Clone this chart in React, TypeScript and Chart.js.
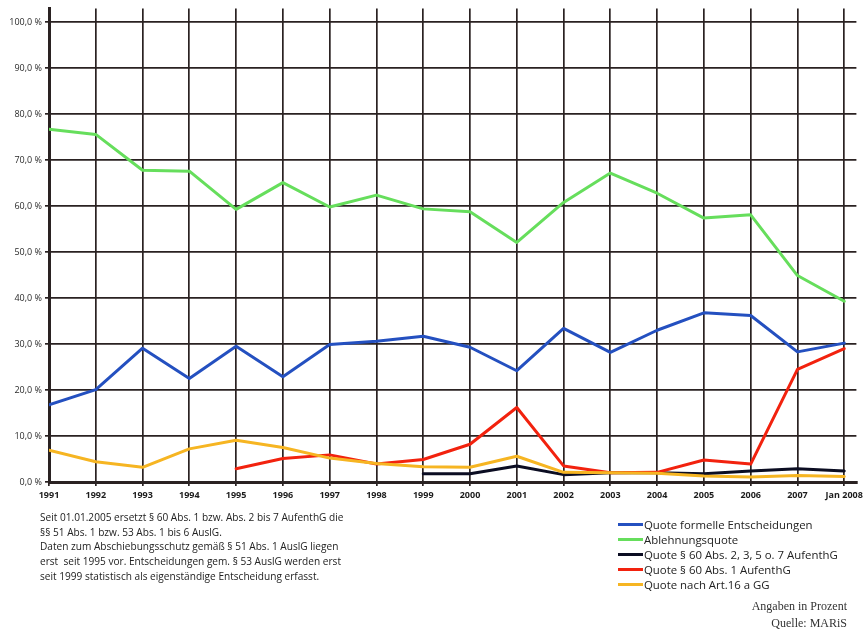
import React, { useEffect, useRef } from "react";
import { Chart, registerables } from "chart.js";

Chart.register(...registerables);

// Jahre (x-Achse)
const years = [
  "1991", "1992", "1993", "1994", "1995", "1996", "1997", "1998", "1999",
  "2000", "2001", "2002", "2003", "2004", "2005", "2006", "2007", "Jan 2008",
];

// Werte in Prozent, null = keine Daten
const formelleEntscheidungen = [
  16.8, 20.1, 29.1, 22.5, 29.5, 22.9, 29.9, 30.6, 31.7,
  29.3, 24.2, 33.4, 28.2, 33.0, 36.8, 36.2, 28.3, 30.2,
];
const ablehnungsquote = [
  76.7, 75.6, 67.8, 67.6, 59.3, 65.1, 59.8, 62.4, 59.4,
  58.8, 52.1, 60.8, 67.2, 62.8, 57.4, 58.1, 44.9, 39.3,
];
const quote60Abs2 = [
  null, null, null, null, null, null, null, null, 1.8,
  1.8, 3.5, 1.6, 2.0, 2.0, 1.8, 2.4, 2.9, 2.4,
];
const quote60Abs1 = [
  null, null, null, null, 2.9, 5.1, 5.9, 3.9, 4.9,
  8.2, 16.2, 3.5, 2.0, 2.1, 4.8, 3.9, 24.5, 29.0,
];
const quoteArt16a = [
  6.9, 4.4, 3.2, 7.2, 9.1, 7.5, 5.2, 4.0, 3.3,
  3.2, 5.6, 2.1, 2.0, 1.9, 1.3, 1.1, 1.4, 1.2,
];

const yTicks = [0, 10, 20, 30, 40, 50, 60, 70, 80, 90, 100];

const BLUE = "#2450c0";
const GREEN = "#66de5c";
const BLACK = "#0b0d22";
const RED = "#f2220e";
const YELLOW = "#f6b522";
const GRID = "#2a2222";

const seriesList = [
  { label: "Quote formelle Entscheidungen", values: formelleEntscheidungen, color: BLUE, order: 0 },
  { label: "Ablehnungsquote", values: ablehnungsquote, color: GREEN, order: 1 },
  { label: "Quote § 60 Abs. 2, 3, 5 o. 7 AufenthG", values: quote60Abs2, color: BLACK, order: 4 },
  { label: "Quote § 60 Abs. 1 AufenthG", values: quote60Abs1, color: RED, order: 3 },
  { label: "Quote nach Art.16 a GG", values: quoteArt16a, color: YELLOW, order: 2 },
];

const formatPercent = (v: number) => v.toFixed(1).replace(".", ",") + " %";

const sans = "'Open Sans', 'Noto Sans', sans-serif";

export default function App() {
  const canvasRef = useRef<HTMLCanvasElement | null>(null);

  useEffect(() => {
    const canvas = canvasRef.current;
    if (!canvas) return;
    const chart = new Chart(canvas, {
      type: "line",
      data: {
        datasets: seriesList.map((s) => ({
          label: s.label,
          data: s.values
            .map((v, i) => (v === null ? null : { x: i, y: v }))
            .filter((p) => p !== null) as { x: number; y: number }[],
          borderColor: s.color,
          backgroundColor: s.color,
          borderWidth: 3,
          pointRadius: 0,
          tension: 0,
          order: s.order,
          borderJoinStyle: "round" as const,
          borderCapStyle: "round" as const,
        })),
      },
      options: {
        responsive: false,
        animation: false,
        layout: { padding: { top: 4, right: 9, left: 0, bottom: 0 } },
        plugins: {
          legend: { display: false },
          tooltip: { enabled: false },
        },
        scales: {
          x: {
            type: "linear",
            min: 0,
            max: 17.26,
            afterFit: (scale: any) => {
              scale.height = 152;
            },
            ticks: {
              stepSize: 1,
              includeBounds: false,
              autoSkip: false,
              maxRotation: 0,
              padding: 4,
              color: "#1c1c1c",
              font: { family: sans, size: 9, weight: "bold" },
              callback: (value: any) => years[Math.round(Number(value))] ?? "",
            },
            grid: {
              color: GRID,
              lineWidth: 1.7,
              tickLength: 4,
              drawTicks: true,
            },
            border: { color: GRID, width: 3 },
          },
          y: {
            type: "linear",
            min: 0,
            max: 103,
            afterFit: (scale: any) => {
              scale.width = 49;
            },
            afterBuildTicks: (scale: any) => {
              scale.ticks = yTicks.map((v) => ({ value: v }));
            },
            ticks: {
              stepSize: 10,
              includeBounds: false,
              padding: 3,
              color: "#2a2a2a",
              font: { family: sans, size: 9 },
              callback: (value: any) => formatPercent(Number(value)),
            },
            grid: {
              color: GRID,
              lineWidth: 1.7,
              tickLength: 4,
            },
            border: { color: GRID, width: 3 },
          },
        },
      },
    });
    return () => chart.destroy();
  }, []);

  const noteLines = [
    "Seit 01.01.2005 ersetzt § 60 Abs. 1 bzw. Abs. 2 bis 7 AufenthG die",
    "§§ 51 Abs. 1 bzw. 53 Abs. 1 bis 6 AuslG.",
    "Daten zum Abschiebungsschutz gemäß § 51 Abs. 1 AuslG liegen",
    "erst  seit 1995 vor. Entscheidungen gem. § 53 AuslG werden erst",
    "seit 1999 statistisch als eigenständige Entscheidung erfasst.",
  ];

  return (
    <div
      style={{
        position: "absolute",
        left: 0,
        top: 0,
        width: 867,
        height: 634,
        background: "#ffffff",
        overflow: "hidden",
      }}
    >
      <canvas ref={canvasRef} width={867} height={634} style={{ display: "block" }} />
      <div
        style={{
          position: "absolute",
          left: 40,
          top: 510,
          fontFamily: sans,
          fontSize: 10.1,
          lineHeight: "14.7px",
          color: "#222",
          whiteSpace: "pre",
        }}
      >
        {noteLines.map((t, i) => (
          <div key={i}>{t}</div>
        ))}
      </div>
      <div
        style={{
          position: "absolute",
          left: 618,
          top: 517,
          fontFamily: sans,
          fontSize: 11.4,
          lineHeight: "15.1px",
          color: "#222",
        }}
      >
        {seriesList.map((s) => (
          <div key={s.label} style={{ display: "flex", alignItems: "center", height: 15.1 }}>
            <span
              style={{
                display: "inline-block",
                width: 25,
                height: 3,
                background: s.color,
                marginRight: 1,
              }}
            />
            <span style={{ whiteSpace: "pre" }}>{s.label}</span>
          </div>
        ))}
      </div>
      <div
        style={{
          position: "absolute",
          right: 867 - 847,
          top: 598,
          textAlign: "right",
          fontFamily: "'Liberation Serif', 'DejaVu Serif', serif",
          fontSize: 12,
          lineHeight: "17px",
          color: "#333",
        }}
      >
        <div>Angaben in Prozent</div>
        <div>Quelle: MARiS</div>
      </div>
    </div>
  );
}
